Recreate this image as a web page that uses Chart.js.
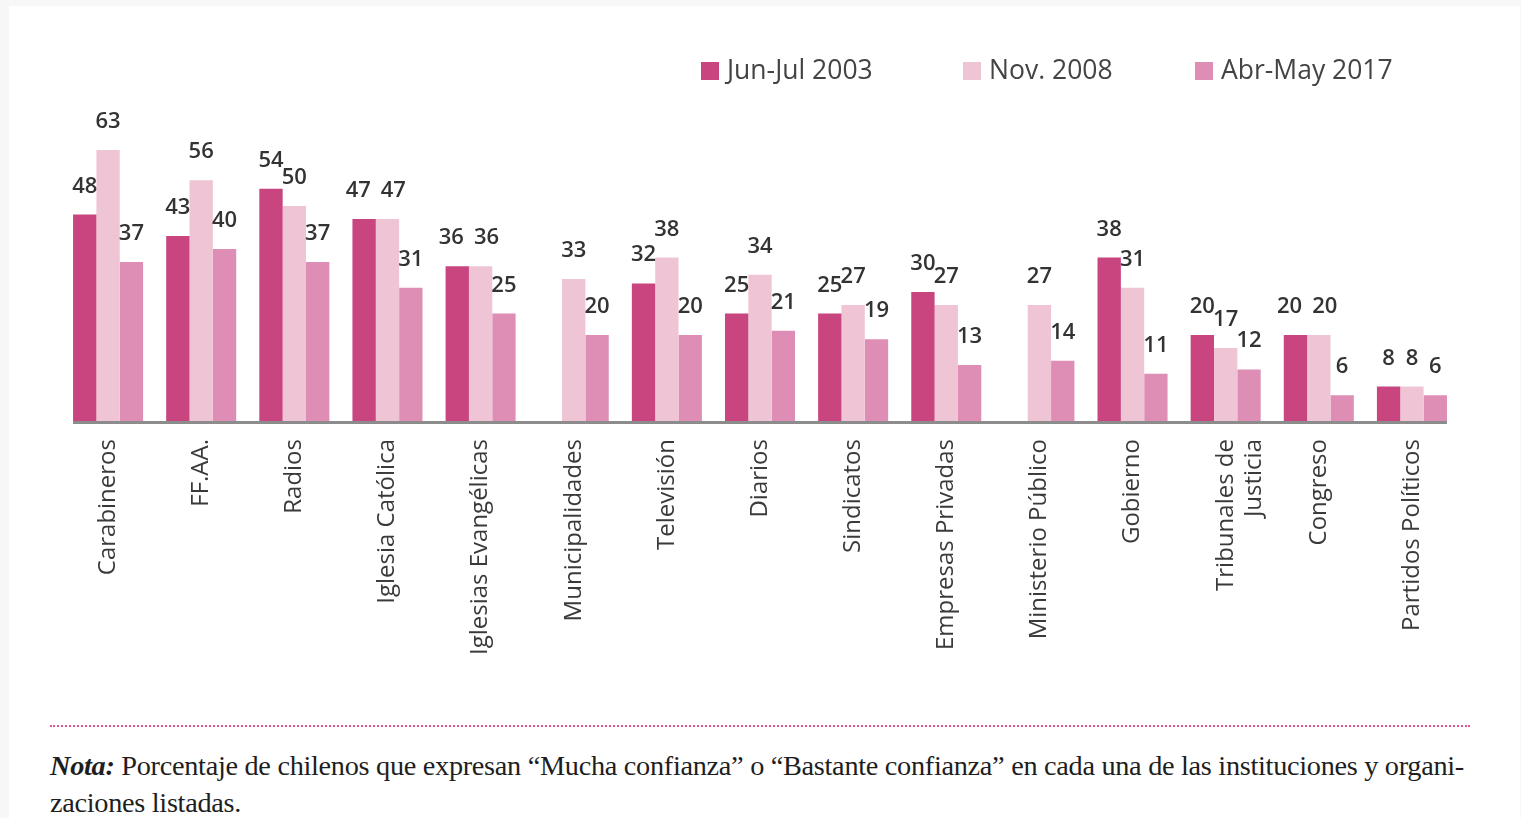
<!DOCTYPE html>
<html>
<head>
<meta charset="utf-8">
<script src="https://cdn.jsdelivr.net/npm/chart.js@4/dist/chart.umd.min.js"></script>
<style>
  html, body { margin: 0; padding: 0; background: #f7f7f7; width: 1521px; height: 818px; overflow: hidden; }
  #panel { position: absolute; left: 9px; top: 6px; width: 1511px; height: 812px; background: #ffffff; }
  #wrap { position: absolute; left: 0; top: 0; width: 1521px; height: 700px; }
  #rule { position: absolute; left: 50px; top: 725px; width: 1420px; border-top: 2px dotted #e0559a; }
  #note { position: absolute; left: 50px; top: 747px; width: 1460px; font-family: "Liberation Serif", "DejaVu Serif", serif; font-size: 28.3px; line-height: 37px; color: #1e1e1e; letter-spacing: -0.3px; white-space: nowrap; }
  #note b { font-style: italic; }
</style>
</head>
<body>
<div id="panel"></div>
<div id="wrap"><canvas id="c" width="1521" height="700"></canvas></div>
<div id="rule"></div>
<div id="note"><b>Nota:</b> Porcentaje de chilenos que expresan “Mucha confianza” o “Bastante confianza” en cada una de las instituciones y organi-<br>zaciones listadas.</div>
<script>
const categories = ["Carabineros", "FF.AA.", "Radios", "Iglesia Católica", "Iglesias Evangélicas", "Municipalidades", "Televisión", "Diarios", "Sindicatos", "Empresas Privadas", "Ministerio Público", "Gobierno", ["Tribunales de", "Justicia"], "Congreso", "Partidos Políticos"];
const seriesNames = ["Jun-Jul 2003", "Nov. 2008", "Abr-May 2017"];
const values2003 = [48, 43, 54, 47, 36, null, 32, 25, 25, 30, null, 38, 20, 20, 8];
const values2008 = [63, 56, 50, 47, 36, 33, 38, 34, 27, 27, 27, 31, 17, 20, 8];
const values2017 = [37, 40, 37, 31, 25, 20, 20, 21, 19, 13, 14, 11, 12, 6, 6];
const colors = ["#c9457f", "#efc5d6", "#de8db4"];

const labelPlugin = {
  id: 'valueLabels',
  afterDatasetsDraw(chart) {
    const ctx = chart.ctx;
    ctx.save();
    ctx.font = '600 22px "Open Sans", sans-serif';
    ctx.fillStyle = '#333';
    ctx.textAlign = 'center';
    ctx.textBaseline = 'alphabetic';
    const n = chart.data.labels.length;
    const dsCount = chart.data.datasets.length;
    const gap = 10;
    for (let i = 0; i < n; i++) {
      const items = [];
      for (let di = 0; di < dsCount; di++) {
        const v = chart.data.datasets[di].data[i];
        if (v === null || v === undefined) continue;
        const bar = chart.getDatasetMeta(di).data[i];
        const w = ctx.measureText(String(v)).width;
        items.push({ text: String(v), x: bar.x, y: bar.y - 22, w });
      }
      // push apart labels that sit at the same height and overlap
      for (let k = 0; k < items.length - 1; k++) {
        const a = items[k], b = items[k + 1];
        if (Math.abs(a.y - b.y) < 4) {
          const need = (a.w / 2 + b.w / 2 + gap) - (b.x - a.x);
          if (need > 0) { a.x -= need / 2; b.x += need / 2; }
        }
      }
      items.forEach(it => ctx.fillText(it.text, it.x, it.y));
    }
    // axis line spanning the bars
    const first = chart.getDatasetMeta(0).data[0];
    const lastMeta = chart.getDatasetMeta(dsCount - 1);
    const last = lastMeta.data[lastMeta.data.length - 1];
    const y0 = chart.scales.y.getPixelForValue(0);
    ctx.strokeStyle = '#8c8c8c';
    ctx.lineWidth = 3;
    ctx.beginPath();
    ctx.moveTo(first.x - first.width / 2, y0 + 1.5);
    ctx.lineTo(last.x + last.width / 2, y0 + 1.5);
    ctx.stroke();
    ctx.restore();
  }
};

const legendPlugin = {
  id: 'customLegend',
  afterDraw(chart) {
    const ctx = chart.ctx;
    const xs = [701, 963, 1195];
    ctx.save();
    ctx.font = '26.5px "Open Sans", sans-serif';
    ctx.textBaseline = 'middle';
    ctx.textAlign = 'left';
    chart.data.datasets.forEach((ds, i) => {
      ctx.fillStyle = ds.backgroundColor;
      ctx.fillRect(xs[i], 62, 18, 18);
      ctx.fillStyle = '#444';
      ctx.fillText(ds.label, xs[i] + 26, 71);
    });
    ctx.restore();
  }
};

new Chart(document.getElementById('c'), {
  type: 'bar',
  data: {
    labels: categories,
    datasets: [
      { label: seriesNames[0], data: values2003, backgroundColor: colors[0] },
      { label: seriesNames[1], data: values2008, backgroundColor: colors[1] },
      { label: seriesNames[2], data: values2017, backgroundColor: colors[2] }
    ]
  },
  options: {
    responsive: false,
    animation: false,
    layout: { padding: { left: 61.5, right: 62.5, top: 120, bottom: 0 } },
    datasets: { bar: { categoryPercentage: 0.752, barPercentage: 1.0 } },
    plugins: { legend: { display: false }, tooltip: { enabled: false } },
    scales: {
      x: {
        grid: { display: false, drawTicks: false },
        border: { display: false },
        ticks: {
          maxRotation: 90, minRotation: 90, padding: 18,
          color: '#3a3a3a',
          font: { family: '"Open Sans", sans-serif', size: 24 },
          autoSkip: false
        },
        afterFit(scale) { scale.height = 279; }
      },
      y: {
        display: false,
        min: 0, max: 70
      }
    }
  },
  plugins: [labelPlugin, legendPlugin]
});
</script>
</body>
</html>
